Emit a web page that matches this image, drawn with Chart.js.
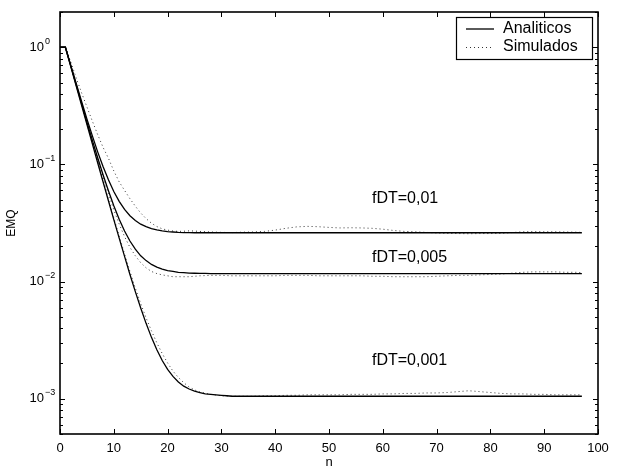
<!DOCTYPE html>
<html lang="pt">
<head>
<meta charset="UTF-8">
<title>EMQ</title>
<script src="https://cdn.jsdelivr.net/npm/chart.js"></script>
<style>
  html, body { margin: 0; padding: 0; background: #fff; }
  #wrap { width: 619px; height: 466px; }
</style>
</head>
<body>
<div id="wrap"><canvas id="grafico" width="619" height="466"></canvas></div>
<script>
// n (eixo x) das curvas analiticas
const nAnalitico = [0, 1, 2, 3, 4, 5, 6, 7, 8, 9, 10, 11, 12, 13, 14, 15, 16, 17, 18, 19, 20,
  21, 22, 23, 24, 25, 26, 27, 28, 29, 30, 31, 32, 97];

const analitico01 = [1, 1, 0.70, 0.494, 0.346, 0.245, 0.176, 0.128, 0.096, 0.0739, 0.0587,
  0.0484, 0.0413, 0.0365, 0.0332, 0.0309, 0.0294, 0.0283, 0.0276, 0.0271, 0.0267,
  0.0265, 0.0263, 0.0262, 0.0262, 0.0261, 0.0261, 0.0261, 0.0261, 0.0261, 0.0261, 0.0261, 0.0261, 0.0261];

const analitico005 = [1, 1, 0.696, 0.480, 0.332, 0.231, 0.161, 0.114, 0.0817, 0.0596, 0.0444,
  0.0341, 0.0270, 0.0222, 0.0189, 0.0166, 0.0151, 0.0140, 0.0133, 0.0128, 0.0124,
  0.0122, 0.0120, 0.0119, 0.0118, 0.01178, 0.01175, 0.01173, 0.0117, 0.0117, 0.0117, 0.0117, 0.0117, 0.0117];

const analitico001 = [1, 1, 0.685, 0.469, 0.321, 0.220, 0.1507, 0.1034, 0.0711, 0.0490, 0.0338,
  0.0235, 0.0164, 0.0115, 0.00821, 0.00595, 0.00440, 0.00334, 0.00262, 0.00212, 0.00178,
  0.00155, 0.00139, 0.00128, 0.00121, 0.00116, 0.00113, 0.00110, 0.00109, 0.00108, 0.00107, 0.00106, 0.00105, 0.00105];

// n (eixo x) das curvas simuladas
const nSimulado = [1, 2, 3, 4, 5, 6, 7, 8, 9, 10, 11, 12, 13, 14, 15, 16, 17, 18, 19, 20, 21, 22, 23, 24, 25,
  26, 28, 30, 32, 34, 36, 38, 40, 42, 44, 46, 48, 50, 52, 54, 56, 58, 60, 62, 64, 66, 68, 70,
  72, 74, 76, 78, 80, 82, 84, 86, 88, 90, 92, 94, 96, 97];

const simulado01 = [1, 0.75, 0.55, 0.41, 0.31, 0.235, 0.18, 0.14, 0.113, 0.088, 0.071, 0.060, 0.051,
  0.044, 0.0385, 0.0345, 0.0315, 0.0295, 0.0282, 0.0275, 0.0270, 0.0268, 0.0269, 0.0271, 0.0270,
  0.0268, 0.0265, 0.0263, 0.0262, 0.0264, 0.0265, 0.0268, 0.0275, 0.0285, 0.0293, 0.0296, 0.0294,
  0.0290, 0.0287, 0.0288, 0.0287, 0.0285, 0.0280, 0.0273, 0.0268, 0.0266, 0.0263, 0.0260, 0.0258,
  0.0257, 0.0256, 0.0257, 0.0257, 0.0258, 0.0262, 0.0266, 0.0267, 0.0266, 0.0266, 0.0265, 0.0264, 0.0263];

const simulado005 = [1, 0.70, 0.485, 0.335, 0.232, 0.160, 0.112, 0.079, 0.0565, 0.0410, 0.0310, 0.0242,
  0.0196, 0.0166, 0.0145, 0.0131, 0.0122, 0.0117, 0.0114, 0.0112, 0.0110, 0.0110, 0.0110, 0.0110, 0.0111,
  0.0112, 0.0113, 0.0113, 0.0112, 0.0112, 0.0112, 0.0112, 0.0112, 0.0113, 0.0113, 0.0113, 0.0112,
  0.0112, 0.0112, 0.0112, 0.0112, 0.0111, 0.0111, 0.0110, 0.0110, 0.0110, 0.0110, 0.0111, 0.0112,
  0.0113, 0.0113, 0.0114, 0.0115, 0.0116, 0.0118, 0.0120, 0.0121, 0.0121, 0.0121, 0.0120, 0.0120, 0.0119];

const simulado001 = [1, 0.69, 0.475, 0.326, 0.224, 0.154, 0.106, 0.073, 0.0505, 0.035, 0.0245, 0.0172,
  0.0122, 0.0088, 0.0065, 0.0049, 0.0038, 0.0030, 0.00243, 0.00202, 0.00172, 0.00152, 0.00137, 0.00126, 0.00119,
  0.00114, 0.00109, 0.00106, 0.00105, 0.00105, 0.00105, 0.00106, 0.00106, 0.00107, 0.00107, 0.00108, 0.00108,
  0.00108, 0.00108, 0.00109, 0.00109, 0.00109, 0.00110, 0.00110, 0.00111, 0.00111, 0.00112, 0.00112, 0.00113,
  0.00115, 0.00117, 0.00115, 0.00113, 0.00111, 0.00110, 0.00110, 0.00109, 0.00109, 0.00108, 0.00108, 0.00108, 0.00108];

// ticks
const ticksX = [0, 10, 20, 30, 40, 50, 60, 70, 80, 90, 100];
const decadasY = [0, -1, -2, -3];
const rotulos = ['fDT=0,01', 'fDT=0,005', 'fDT=0,001'];
const legendas = ['Analiticos', 'Simulados'];

const FONTE = '"Liberation Sans", Arial, Helvetica, sans-serif';

function pontos(xs, ys) {
  return xs.map(function (x, i) { return { x: x, y: ys[i] }; });
}

function serie(xs, ys, tracejado) {
  return {
    data: pontos(xs, ys),
    borderColor: tracejado ? '#333' : '#000',
    borderWidth: tracejado ? 1 : 1.3,
    borderDash: tracejado ? [1, 3] : [],
    pointRadius: 0,
    fill: false,
    tension: 0
  };
}

// eixos estilo matlab: caixa, ticks para dentro, rotulos 10^k
const eixosMatlab = {
  id: 'eixosMatlab',
  afterDraw(chart) {
    const ctx = chart.ctx;
    const a = chart.chartArea;
    const sx = chart.scales.x;
    const sy = chart.scales.y;
    ctx.save();
    ctx.strokeStyle = '#000';
    ctx.fillStyle = '#000';

    // ticks x
    ctx.lineWidth = 1;
    ticksX.forEach(function (v) {
      const px = Math.round(sx.getPixelForValue(v)) + 0.5;
      ctx.beginPath();
      ctx.moveTo(px, a.bottom); ctx.lineTo(px, a.bottom - 5);
      ctx.moveTo(px, a.top); ctx.lineTo(px, a.top + 5);
      ctx.stroke();
    });

    // ticks y (maiores e menores)
    for (let d = -4; d <= 0; d++) {
      for (let m = 1; m <= 9; m++) {
        const v = m * Math.pow(10, d);
        if (v < sy.min || v > sy.max) continue;
        const py = Math.round(sy.getPixelForValue(v)) + 0.5;
        const len = m === 1 ? 5 : 3;
        ctx.beginPath();
        ctx.moveTo(a.left, py); ctx.lineTo(a.left + len, py);
        ctx.moveTo(a.right, py); ctx.lineTo(a.right - len, py);
        ctx.stroke();
      }
    }

    // caixa
    ctx.lineWidth = 1.6;
    ctx.strokeRect(a.left, a.top, a.right - a.left, a.bottom - a.top);

    // rotulos x
    ctx.font = '13px ' + FONTE;
    ctx.textAlign = 'center';
    ctx.textBaseline = 'middle';
    ticksX.forEach(function (v) {
      ctx.fillText(String(v), sx.getPixelForValue(v), 448);
    });
    ctx.textBaseline = 'top';
    ctx.fillText('n', (a.left + a.right) / 2, 456);

    // rotulos y
    decadasY.forEach(function (d) {
      const py = sy.getPixelForValue(Math.pow(10, d));
      ctx.font = '13px ' + FONTE;
      ctx.textAlign = 'left';
      ctx.textBaseline = 'middle';
      ctx.fillText('10', 29.5, py);
      const w = ctx.measureText('10').width;
      ctx.font = '9px ' + FONTE;
      ctx.fillText(d === 0 ? '0' : '\u2212' + (-d), 29.5 + w + 1, py - 6);
    });

    ctx.font = '12px ' + FONTE;
    ctx.translate(12, (a.top + a.bottom) / 2);
    ctx.rotate(-Math.PI / 2);
    ctx.textAlign = 'center';
    ctx.textBaseline = 'middle';
    ctx.fillText('EMQ', 0, 0);
    ctx.restore();

    // anotacoes
    ctx.save();
    ctx.fillStyle = '#000';
    ctx.font = '16px ' + FONTE;
    ctx.textAlign = 'left';
    ctx.textBaseline = 'middle';
    ctx.fillText(rotulos[0], 372, 199);
    ctx.fillText(rotulos[1], 372, 257.5);
    ctx.fillText(rotulos[2], 372, 360.5);

    // legenda
    ctx.fillStyle = '#fff';
    ctx.fillRect(456, 17, 136, 42);
    ctx.strokeStyle = '#000';
    ctx.lineWidth = 1.2;
    ctx.strokeRect(456.5, 17.5, 136, 42);
    ctx.beginPath();
    ctx.lineWidth = 1.3;
    ctx.moveTo(466, 29); ctx.lineTo(494, 29);
    ctx.stroke();
    ctx.beginPath();
    ctx.lineWidth = 1;
    ctx.strokeStyle = '#333';
    ctx.setLineDash([1, 3]);
    ctx.moveTo(466, 47.5); ctx.lineTo(494, 47.5);
    ctx.stroke();
    ctx.setLineDash([]);
    ctx.fillStyle = '#000';
    ctx.font = '16px ' + FONTE;
    ctx.fillText(legendas[0], 503, 29);
    ctx.fillText(legendas[1], 503, 47);
    ctx.restore();
  }
};

new Chart(document.getElementById('grafico'), {
  type: 'line',
  data: {
    datasets: [
      serie(nAnalitico, analitico01, false),
      serie(nAnalitico, analitico005, false),
      serie(nAnalitico, analitico001, false),
      serie(nSimulado, simulado01, true),
      serie(nSimulado, simulado005, true),
      serie(nSimulado, simulado001, true)
    ]
  },
  options: {
    responsive: false,
    animation: false,
    devicePixelRatio: 1,
    layout: { padding: { left: 60, top: 12, right: 21, bottom: 32 } },
    scales: {
      x: { type: 'linear', min: 0, max: 100, display: false },
      y: { type: 'logarithmic', min: 0.0005, max: 2, display: false }
    },
    plugins: {
      legend: { display: false },
      tooltip: { enabled: false }
    }
  },
  plugins: [eixosMatlab]
});
</script>
</body>
</html>
